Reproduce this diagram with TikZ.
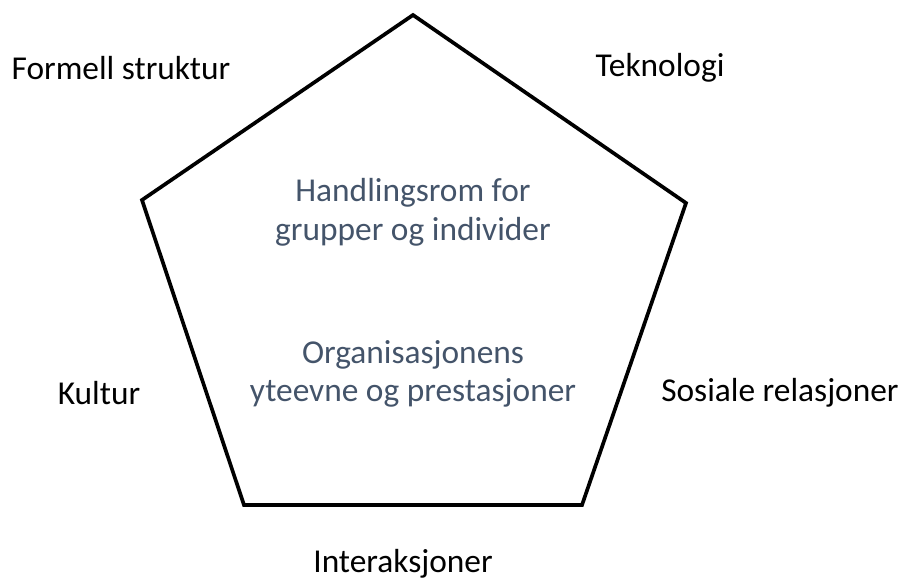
\documentclass[tikz,border=0pt]{standalone}
\usepackage{fontspec}
\setmainfont{Carlito}
\usetikzlibrary{positioning}
\definecolor{innertext}{RGB}{68,84,106}

\begin{document}
\begin{tikzpicture}[
    x=0.02cm, y=-0.02cm,
    side/.style={font=\fontsize{19}{23}\selectfont, text=black},
    inner/.style={font=\fontsize{19}{22}\selectfont, text=innertext, align=center},
    edge/.style={draw=black, line width=2.1pt, line join=miter}
]
    \useasboundingbox (0,0) rectangle (903,583);
    % corners of the pentagon
    \coordinate (top) at (413,15);
    \coordinate (rgt) at (686,203);
    \coordinate (brt) at (582,505);
    \coordinate (blf) at (244,505);
    \coordinate (lft) at (142,200);
    \draw[edge] (top) -- (rgt) -- (brt) -- (blf) -- (lft) -- cycle;

    \node[inner] (rom) at (413,212) {Handlingsrom for\\grupper og individer};
    \node[inner] (yte) at (413,374) {Organisasjonens\\yteevne og prestasjoner};

    \node[side] (form) at (121,68) {Formell struktur};
    \node[side] (tek) at (660,68) {Teknologi};
    \node[side] (kul) at (99,393) {Kultur};
    \node[side] (sos) at (780,393) {Sosiale relasjoner};
    \node[side] (int) at (403,564) {Interaksjoner};
\end{tikzpicture}
\end{document}
